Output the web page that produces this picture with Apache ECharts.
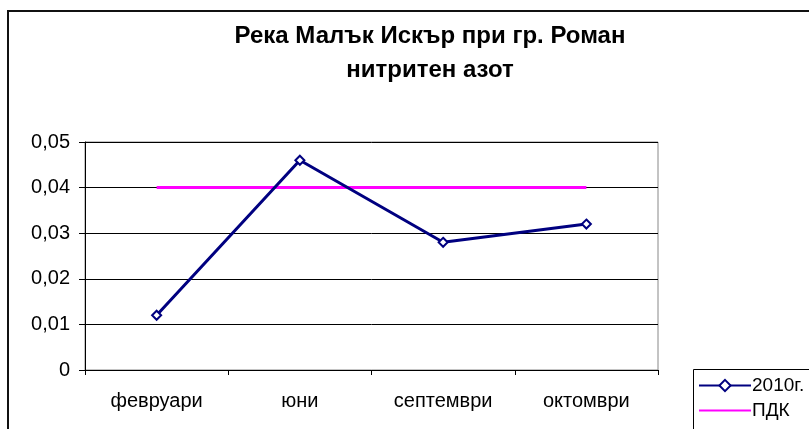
<!DOCTYPE html>
<html><head><meta charset="utf-8">
<script src="https://cdn.jsdelivr.net/npm/echarts@6/dist/echarts.min.js"></script>
<style>html,body{margin:0;padding:0;background:#fff;}#c{width:809px;height:429px;}</style>
</head><body><div id="c"></div>
<script>
const categories = ['февруари', 'юни', 'септември', 'октомври'];
const series2010 = [0.012, 0.046, 0.028, 0.032];
const seriesPDK = [0.04, 0.04, 0.04, 0.04];
const titleLines = ['Река Малък Искър при гр. Роман', 'нитритен азот'];
const seriesNames = ['2010г.', 'ПДК'];

const chart = echarts.init(document.getElementById('c'), null, {renderer: 'canvas'});
const font = '"Liberation Sans", Arial, sans-serif';
chart.setOption({
  animation: false,
  backgroundColor: '#fff',
  title: {
    text: titleLines.join('\n'),
    left: 425, top: 14, textAlign: 'center',
    textStyle: {fontFamily: font, fontSize: 24, fontWeight: 'bold', color: '#000', lineHeight: 34}
  },
  graphic: [
    {type: 'rect', shape: {x: 8, y: 11, width: 820, height: 440}, style: {fill: 'none', stroke: '#111', lineWidth: 2}, z: 10},
    {type: 'rect', shape: {x: 693.5, y: 369.5, width: 140, height: 80}, style: {fill: '#fff', stroke: '#000', lineWidth: 1}, z: 0}
  ],
  legend: {
    orient: 'vertical', left: 698, top: 376, itemGap: 6,
    itemWidth: 52, itemHeight: 14, padding: 0,
    textStyle: {fontFamily: font, fontSize: 19, color: '#000', padding: [0, 0, 0, -4]},
    data: [
      {name: seriesNames[0]},
      {name: seriesNames[1], itemStyle: {opacity: 0}}
    ]
  },
  grid: {left: 85, right: 151, top: 142, bottom: 59, show: true, borderColor: '#888', borderWidth: 1},
  xAxis: {
    type: 'category', data: categories, boundaryGap: true,
    axisLine: {lineStyle: {color: '#000', width: 1}},
    axisTick: {show: true, alignWithLabel: false, length: 5, lineStyle: {color: '#000'}},
    axisLabel: {fontFamily: font, fontSize: 20, color: '#000', margin: 21}
  },
  yAxis: {
    type: 'value', min: 0, max: 0.05, interval: 0.01,
    axisLine: {show: true, lineStyle: {color: '#000', width: 1}},
    axisTick: {show: true, length: 6, lineStyle: {color: '#000'}},
    splitLine: {lineStyle: {color: '#000', width: 1}},
    axisLabel: {fontFamily: font, fontSize: 20, color: '#000', margin: 15,
      formatter: v => v === 0 ? '0' : v.toFixed(2).replace('.', ',')}
  },
  series: [
    {name: seriesNames[0], type: 'line', data: series2010, symbol: 'emptyDiamond', symbolSize: 9,
      lineStyle: {color: '#000080', width: 3}, itemStyle: {color: '#000080', borderWidth: 1.5}, z: 3},
    {name: seriesNames[1], type: 'line', data: seriesPDK, symbol: 'none',
      lineStyle: {color: '#ff00ff', width: 3}, itemStyle: {color: '#ff00ff'}, z: 2}
  ]
});
</script></body></html>
